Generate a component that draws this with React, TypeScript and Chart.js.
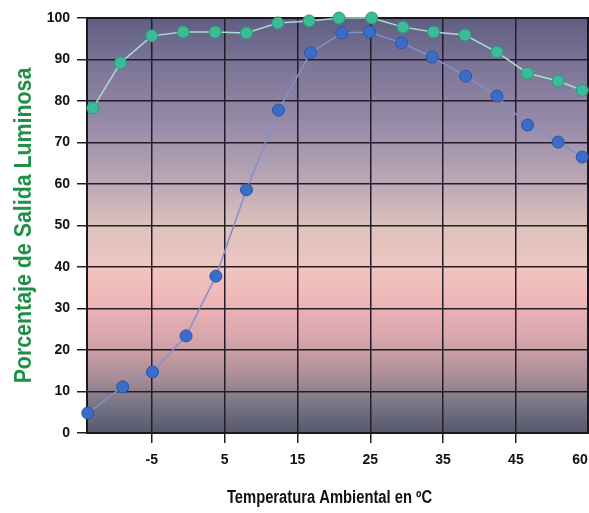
import React, { useEffect, useRef } from "react";
import { Chart, registerables } from "chart.js";

Chart.register(...registerables);

const greenTemps = [-13.1, -9.3, -5.0, -0.7, 3.7, 8.0, 12.3, 16.6, 20.7, 25.2, 29.5, 33.7, 38.0, 42.4, 46.6, 50.8, 54.1];
const greenValues = [78.3, 89.2, 95.7, 96.6, 96.6, 96.4, 98.8, 99.3, 100, 100, 97.8, 96.6, 95.9, 91.8, 86.7, 84.8, 82.6];
const blueTemps = [-13.8, -9.0, -4.9, -0.3, 3.8, 8.0, 12.4, 16.8, 21.1, 24.9, 29.3, 33.5, 38.1, 42.4, 46.6, 50.8, 54.1];
const blueValues = [4.8, 11.1, 14.7, 23.4, 37.8, 58.6, 77.8, 91.6, 96.4, 96.6, 94.0, 90.6, 86.0, 81.2, 74.2, 70.1, 66.5];
const xTickValues = [-5, 5, 15, 25, 35, 45, 53.8];
const xTickLabels = ["-5", "5", "15", "25", "35", "45", "60"];
const yTickValues = [0, 10, 20, 30, 40, 50, 60, 70, 80, 90, 100];
const xTitle = "Temperatura Ambiental en ºC";
const yTitle = "Porcentaje de Salida Luminosa";

const drawCondensed = (ctx: any, text: string, x: number, y: number, font: string, color: string, sx: number, rot: number) => {
  ctx.save();
  ctx.translate(x, y);
  ctx.rotate(rot);
  ctx.scale(sx, 1);
  ctx.font = font;
  ctx.fillStyle = color;
  ctx.textAlign = "center";
  ctx.textBaseline = "alphabetic";
  ctx.fillText(text, 0, 0);
  ctx.restore();
};

const bgPlugin = {
  id: "bgGradient",
  beforeDraw(chart: any) {
    const { ctx, chartArea } = chart;
    if (!chartArea) return;
    const { left, top, right, bottom } = chartArea;
    const g = ctx.createLinearGradient(0, top, 0, bottom);
    g.addColorStop(0, "#5f5e82");
    g.addColorStop(0.1, "#797395");
    g.addColorStop(0.25, "#978aa8");
    g.addColorStop(0.39, "#b9a6b6");
    g.addColorStop(0.5, "#dcc2bc");
    g.addColorStop(0.6, "#efc6c0");
    g.addColorStop(0.68, "#f0b6b8");
    g.addColorStop(0.78, "#d4a4aa");
    g.addColorStop(0.87, "#a68c96");
    g.addColorStop(0.94, "#727282");
    g.addColorStop(1, "#56576b");
    ctx.save();
    ctx.fillStyle = g;
    ctx.fillRect(left, top, right - left, bottom - top);
    ctx.restore();
  },
  beforeDatasetsDraw(chart: any) {
    const { ctx, chartArea } = chart;
    const { left, top, right, bottom } = chartArea;
    ctx.save();
    ctx.strokeStyle = "#1c1620";
    ctx.lineWidth = 2;
    ctx.strokeRect(left, top, right - left, bottom - top);
    ctx.restore();
  },
  afterDraw(chart: any) {
    const { ctx, chartArea } = chart;
    const cx = (chartArea.left + chartArea.right) / 2 - 8;
    drawCondensed(ctx, xTitle, cx, 503, "bold 18px 'Liberation Sans', Arial, sans-serif", "#111", 0.82, 0);
    const cy = (chartArea.top + chartArea.bottom) / 2;
    drawCondensed(ctx, yTitle, 31, cy, "bold 24px 'Liberation Sans', Arial, sans-serif", "#1e9146", 0.89, -Math.PI / 2);
  },
};

export default function App() {
  const ref = useRef<HTMLCanvasElement | null>(null);
  useEffect(() => {
    document.body.style.margin = "0";
    const canvas = ref.current!;
    const tickFont = { family: "'Liberation Sans', Arial, sans-serif", size: 14, weight: "bold" as const };
    const isHidden = (c: any) => c.tick && c.tick.value === xTickValues[xTickValues.length - 1];
    const chart = new Chart(canvas, {
      type: "line",
      data: {
        datasets: [
          {
            label: "green",
            data: greenTemps.map((t, i) => ({ x: t, y: greenValues[i] })),
            borderColor: "#a9dcd4",
            borderWidth: 1.5,
            pointRadius: 6,
            pointBackgroundColor: "#3bbb96",
            pointBorderColor: "#2a9a7c",
            pointBorderWidth: 1,
            tension: 0,
            clip: false,
          },
          {
            label: "blue",
            data: blueTemps.map((t, i) => ({ x: t, y: blueValues[i] })),
            borderColor: "#8090cc",
            borderWidth: 1.5,
            pointRadius: 6,
            pointBackgroundColor: "#3a6cc8",
            pointBorderColor: "#2a55a8",
            pointBorderWidth: 1,
            tension: 0,
            clip: false,
          },
        ],
      },
      options: {
        animation: false,
        responsive: false,
        maintainAspectRatio: false,
        layout: { autoPadding: false, padding: { left: 0, right: 1, top: 18, bottom: 0 } },
        plugins: { legend: { display: false }, tooltip: { enabled: false } },
        scales: {
          x: {
            type: "linear",
            min: -13.9,
            max: 54.9,
            afterBuildTicks: (scale: any) => {
              scale.ticks = xTickValues.map((v) => ({ value: v }));
            },
            afterFit: (scale: any) => {
              scale.height = 80;
              scale.paddingRight = 0;
              scale.paddingLeft = 0;
            },
            ticks: {
              autoSkip: false,
              maxRotation: 0,
              padding: 9,
              color: "#111",
              font: tickFont,
              callback: (v: any) => {
                const i = xTickValues.indexOf(Number(v));
                return i >= 0 ? xTickLabels[i] : "";
              },
            },
            grid: {
              color: (c: any) => (isHidden(c) ? "rgba(0,0,0,0)" : "#241c28"),
              tickColor: (c: any) => (isHidden(c) ? "rgba(0,0,0,0)" : "#241c28"),
              lineWidth: 1.5,
              tickLength: 10,
            },
            border: { display: false },
          },
          y: {
            type: "linear",
            min: 0,
            max: 100,
            afterBuildTicks: (scale: any) => {
              scale.ticks = yTickValues.map((v) => ({ value: v }));
            },
            afterFit: (scale: any) => {
              scale.width = 87;
            },
            ticks: {
              padding: 7,
              color: "#111",
              font: tickFont,
            },
            grid: {
              color: "#241c28",
              tickColor: "#241c28",
              lineWidth: 1.5,
              tickLength: 10,
            },
            border: { display: false },
          },
        },
      },
      plugins: [bgPlugin],
    });
    return () => chart.destroy();
  }, []);
  return (
    <div style={{ position: "absolute", left: 0, top: 0, width: 589, height: 513, background: "#fff" }}>
      <canvas ref={ref} width={589} height={513} style={{ width: 589, height: 513 }} />
    </div>
  );
}
